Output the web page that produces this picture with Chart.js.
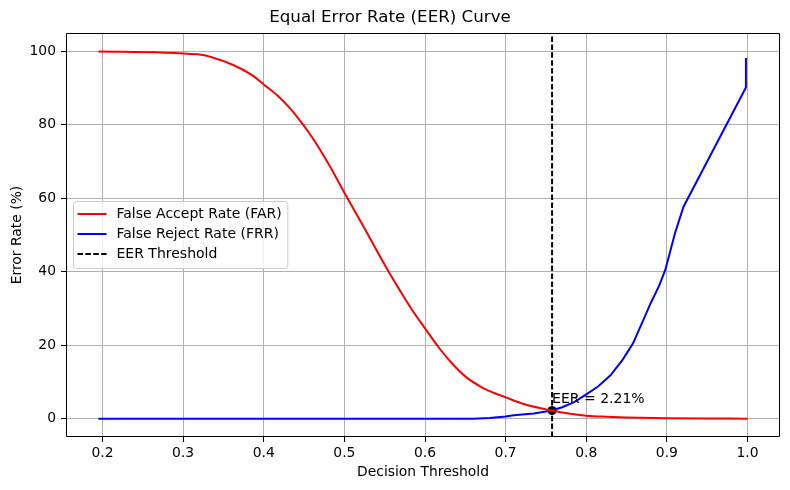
<!DOCTYPE html>
<html>
<head>
<meta charset="utf-8">
<script src="https://cdn.jsdelivr.net/npm/chart.js@4.4.1/dist/chart.umd.min.js"></script>
<style>
  html, body { margin: 0; padding: 0; background: #fff; }
  #wrap { width: 790px; height: 490px; }
</style>
</head>
<body>
<div id="wrap"><canvas id="eer"></canvas></div>
<script>
// values
const FAR_X = [0.195, 0.318, 0.362, 0.385, 0.400, 0.417, 0.433, 0.443, 0.455, 0.466, 0.4826, 0.500, 0.5235, 0.5528, 0.5686, 0.584, 0.600, 0.618, 0.6345, 0.651, 0.6716, 0.685, 0.700, 0.7246, 0.7576, 0.778, 0.800, 0.825, 0.850, 0.900, 0.950, 1.000];
const FAR_Y = [100, 99.2, 96.3, 93.6, 91.0, 88.0, 84.4, 81.7, 78.2, 74.6, 68.5, 61.5, 52.4, 40.8, 35.0, 29.6, 24.6, 19.1, 14.8, 11.3, 8.4, 7.05, 5.8, 3.85, 2.21, 1.4, 0.8, 0.5, 0.3, 0.1, 0.02, 0];

const FRR_X = [0.195, 0.660, 0.680, 0.700, 0.710, 0.735, 0.7576, 0.770, 0.785, 0.800, 0.815, 0.830, 0.845, 0.858, 0.870, 0.880, 0.890, 0.898, 0.910, 0.9206, 0.998, 0.998];
const FRR_Y = [0, 0, 0.2, 0.6, 0.9, 1.4, 2.21, 3.1, 4.5, 6.6, 8.8, 11.8, 16.0, 20.5, 26.5, 31.5, 36.0, 40.5, 50.5, 57.7, 90.2, 98.2];

const X_TICKS = [0.2, 0.3, 0.4, 0.5, 0.6, 0.7, 0.8, 0.9, 1.0];
const Y_TICKS = [0, 20, 40, 60, 80, 100];

const EER_THRESHOLD = 0.7576;
const EER_VALUE = 2.21;

const FONT = "'DejaVu Sans', sans-serif";
const DASH = [5.5, 2.4];

Chart.defaults.font.family = FONT;
Chart.defaults.color = '#000';

const pts = (xs, ys) => xs.map((x, i) => ({ x, y: ys[i] }));

// matplotlib-like 5% margins
const allX = FAR_X.concat(FRR_X), allY = FAR_Y.concat(FRR_Y);
const xLo = Math.min(...allX), xHi = Math.max(...allX);
const yLo = Math.min(...allY), yHi = Math.max(...allY);
const xMin = xLo - (xHi - xLo) * 0.05, xMax = xHi + (xHi - xLo) * 0.05;
const yMin = yLo - (yHi - yLo) * 0.05, yMax = yHi + (yHi - yLo) * 0.05;

// all four spines
const framePlugin = {
  id: 'axesFrame',
  afterDraw(chart) {
    const { ctx, chartArea: a } = chart;
    const l = Math.round(a.left) + 0.5, t = Math.round(a.top) + 0.5;
    const r = Math.round(a.right) - 0.5, b = Math.round(a.bottom) - 0.5;
    ctx.save();
    ctx.setLineDash([]);
    ctx.strokeStyle = '#000';
    ctx.lineWidth = 1;
    ctx.beginPath();
    ctx.moveTo(l, t); ctx.lineTo(r, t); ctx.lineTo(r, b); ctx.lineTo(l, b); ctx.closePath();
    ctx.stroke();
    ctx.restore();
  }
};

// "EER = x%" text next to the marker
const eerLabel = {
  id: 'eerLabel',
  afterDatasetsDraw(chart) {
    const { ctx, scales } = chart;
    ctx.save();
    ctx.font = '14px ' + FONT;
    ctx.fillStyle = '#000';
    ctx.textBaseline = 'alphabetic';
    ctx.textAlign = 'left';
    ctx.fillText(`EER = ${EER_VALUE.toFixed(2)}%`, scales.x.getPixelForValue(EER_THRESHOLD), scales.y.getPixelForValue(EER_VALUE + 2));
    ctx.restore();
  }
};

// legend box at "center left" inside the axes
const boxLegend = {
  id: 'boxLegend',
  afterDraw(chart) {
    const { ctx, chartArea: a } = chart;
    const items = chart.data.datasets.filter(d => d.inLegend);
    ctx.save();
    ctx.font = '14px ' + FONT;
    const textW = Math.max(...items.map(d => ctx.measureText(d.label).width));
    const rowH = 20;
    const w = 43 + textW + 6;
    const h = items.length * rowH + 7;
    const x = a.left + 7.5;
    const y = (a.top + a.bottom) / 2 - h / 2;
    ctx.beginPath();
    ctx.roundRect(x, y, w, h, 3);
    ctx.fillStyle = 'rgba(255,255,255,0.8)';
    ctx.fill();
    ctx.strokeStyle = '#cccccc';
    ctx.lineWidth = 1;
    ctx.stroke();
    items.forEach((d, i) => {
      const cy = y + 2.5 + rowH * i + rowH / 2;
      ctx.beginPath();
      ctx.setLineDash(d.borderDash || []);
      ctx.strokeStyle = d.borderColor;
      ctx.lineWidth = 2;
      ctx.moveTo(x + 4, cy);
      ctx.lineTo(x + 33, cy);
      ctx.stroke();
      ctx.setLineDash([]);
      ctx.fillStyle = '#000';
      ctx.textBaseline = 'middle';
      ctx.fillText(d.label, x + 43, cy);
    });
    ctx.restore();
  }
};

new Chart(document.getElementById('eer'), {
  type: 'line',
  data: {
    datasets: [
      {
        label: 'False Accept Rate (FAR)', inLegend: true,
        data: pts(FAR_X, FAR_Y),
        borderColor: '#ff0000', borderWidth: 2, pointRadius: 0,
        cubicInterpolationMode: 'monotone',
      },
      {
        label: 'False Reject Rate (FRR)', inLegend: true,
        data: pts(FRR_X, FRR_Y),
        borderColor: '#0000ff', borderWidth: 2, pointRadius: 0, tension: 0,
      },
      {
        label: 'EER Threshold', inLegend: true,
        data: [{ x: EER_THRESHOLD, y: yMin }, { x: EER_THRESHOLD, y: yMax }],
        borderColor: '#000', borderWidth: 2, borderDash: DASH, pointRadius: 0,
      },
      {
        label: 'EER',
        data: [{ x: EER_THRESHOLD, y: EER_VALUE }],
        showLine: false, pointRadius: 4.5, pointBackgroundColor: '#000', pointBorderWidth: 0,
        borderColor: '#000',
      },
    ],
  },
  options: {
    responsive: true,
    maintainAspectRatio: false,
    animation: false,
    layout: { padding: { right: 10 } },
    plugins: {
      legend: { display: false },
      tooltip: { enabled: false },
      title: {
        display: true,
        text: 'Equal Error Rate (EER) Curve',
        color: '#000',
        font: { size: 16.7, weight: 'normal' },
        padding: { top: 8, bottom: 5 },
      },
    },
    scales: {
      x: {
        type: 'linear',
        min: xMin, max: xMax,
        afterBuildTicks: s => { s.ticks = X_TICKS.map(v => ({ value: v })); },
        afterFit: s => { s.height = 53; },
        ticks: { callback: v => v.toFixed(1), font: { size: 13.9 }, padding: 3, maxRotation: 0 },
        grid: { color: '#b0b0b0', lineWidth: 1, tickLength: 5, tickColor: '#000' },
        border: { display: false },
        title: { display: true, text: 'Decision Threshold', font: { size: 13.9 }, padding: { bottom: 9.6 } },
      },
      y: {
        type: 'linear',
        min: yMin, max: yMax,
        afterBuildTicks: s => { s.ticks = Y_TICKS.map(v => ({ value: v })); },
        afterFit: s => { s.width = 66; },
        ticks: { callback: v => String(v), font: { size: 13.9 }, padding: 5 },
        grid: { color: '#b0b0b0', lineWidth: 1, tickLength: 5, tickColor: '#000' },
        border: { display: false },
        title: { display: true, text: 'Error Rate (%)', font: { size: 13.9 }, padding: { top: 8.6 } },
      },
    },
  },
  plugins: [framePlugin, eerLabel, boxLegend],
});
</script>
</body>
</html>
